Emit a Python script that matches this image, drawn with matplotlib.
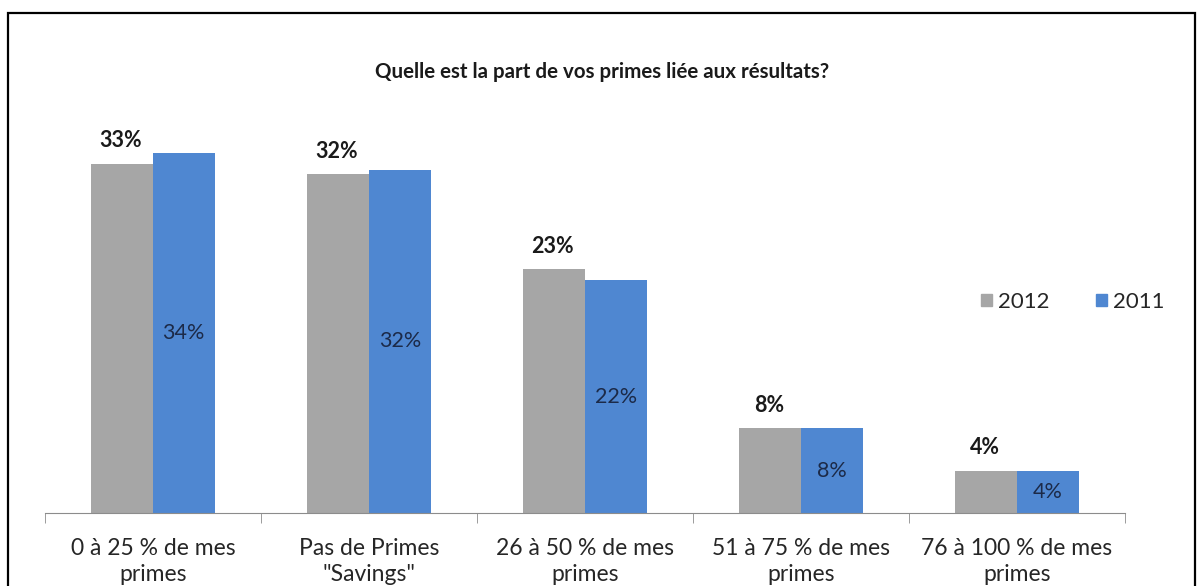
import matplotlib
matplotlib.use("Agg")
import matplotlib.pyplot as plt
from matplotlib.patches import Rectangle, Patch

categories = ["0 à 25 % de mes\nprimes", "Pas de Primes\n\"Savings\"", "26 à 50 % de mes\nprimes",
              "51 à 75 % de mes\nprimes", "76 à 100 % de mes\nprimes"]
series_names = ["2012", "2011"]
values_2012 = [33, 32, 23, 8, 4]
values_2011 = [34, 32.4, 22, 8, 4]
labels_2012 = ["33%", "32%", "23%", "8%", "4%"]
labels_2011 = ["34%", "32%", "22%", "8%", "4%"]
title = "Quelle est la part de vos primes liée aux résultats?"

gray = "#A6A6A6"
blue = "#4F87D1"
plt.rcParams['font.family'] = ['Lato', 'DejaVu Sans']

W, H = 1203, 586
fig = plt.figure(figsize=(W / 100, H / 100), dpi=100)
# border
fig.patches.append(Rectangle((8 / W, -0.05), (1195 - 8) / W, 1.05 - 13 / H,
                             transform=fig.transFigure, fill=False, lw=1.6, ec="black"))

ax = fig.add_axes([45 / W, 73 / H, 1080 / W, 413 / H])
x = list(range(len(categories)))
bw = 0.285
b1 = ax.bar([i - bw / 2 for i in x], values_2012, width=bw, color=gray, label=series_names[0])
b2 = ax.bar([i + bw / 2 for i in x], values_2011, width=bw, color=blue, label=series_names[1])
ax.set_xlim(-0.5, len(categories) - 0.5)
ax.set_ylim(0, 39)

for rect, lab in zip(b1, labels_2012):
    ax.annotate(lab, (rect.get_x() + rect.get_width() / 2, rect.get_height()),
                xytext=(-1, 16.5), textcoords="offset points", ha="center", va="center",
                fontsize=15.5, fontweight="bold", color="#1a1a1a")
for rect, lab in zip(b2, labels_2011):
    ax.text(rect.get_x() + rect.get_width() / 2, rect.get_height() / 2, lab,
            ha="center", va="center", fontsize=15.5, color="#1c2a48")

for s in ["top", "right", "left"]:
    ax.spines[s].set_visible(False)
ax.spines["bottom"].set_color("#8c8c8c")
ax.set_yticks([])
ax.set_xticks(x)
ax.set_xticklabels(categories, fontsize=16.5, color="#262626", linespacing=1.3)
ax.tick_params(axis="x", which="major", length=0, pad=18)
ax.set_xticks([i - 0.5 for i in range(len(categories) + 1)], minor=True)
ax.tick_params(axis="x", which="minor", length=7, color="#8c8c8c", direction="out")

fig.text(602 / W, 1 - 72 / H, title, ha="center", va="center", fontsize=14.8,
         fontweight="bold", color="#1a1a1a")

handles = [Patch(color=gray), Patch(color=blue)]
fig.legend(handles, series_names, loc="center left", bbox_to_anchor=(961 / W, 1 - 302 / H),
           ncol=2, frameon=False, fontsize=16, handlelength=0.5, handleheight=0.5,
           handletextpad=0.25, columnspacing=2.1, labelcolor="#262626")

fig.savefig("out.png", dpi=100)
